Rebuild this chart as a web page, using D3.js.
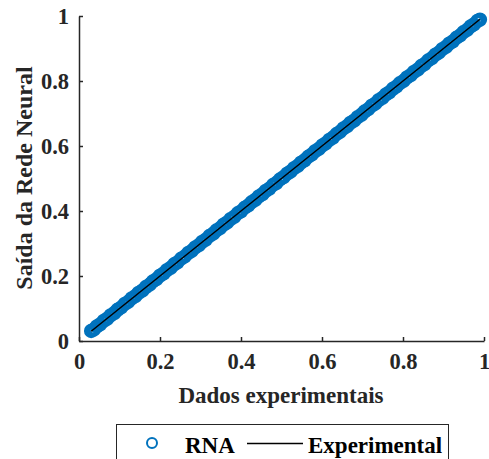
<!DOCTYPE html>
<html>
<head>
<meta charset="utf-8">
<script src="https://cdn.jsdelivr.net/npm/d3@7"></script>
<style>
  body { margin: 0; background: #fff; }
  svg { display: block; }
</style>
</head>
<body>
<div id="chart"></div>
<script>
// dados experimentais (x) e saida da rede (y)
const expData = [
  0.030, 0.036, 0.044, 0.052, 0.061, 0.069, 0.078, 0.087, 0.095, 0.104,
  0.113, 0.121, 0.130, 0.139, 0.147, 0.156, 0.165, 0.174, 0.182, 0.191,
  0.200, 0.209, 0.217, 0.226, 0.235, 0.243, 0.252, 0.261, 0.270, 0.278,
  0.287, 0.296, 0.304, 0.313, 0.322, 0.331, 0.339, 0.348, 0.357, 0.365,
  0.374, 0.383, 0.392, 0.400, 0.409, 0.418, 0.426, 0.435, 0.444, 0.453,
  0.461, 0.470, 0.479, 0.487, 0.496, 0.505, 0.514, 0.522, 0.531, 0.540,
  0.548, 0.557, 0.566, 0.575, 0.583, 0.592, 0.601, 0.609, 0.618, 0.627,
  0.636, 0.644, 0.653, 0.662, 0.670, 0.679, 0.688, 0.697, 0.705, 0.714,
  0.723, 0.731, 0.740, 0.749, 0.758, 0.766, 0.775, 0.784, 0.792, 0.801,
  0.810, 0.819, 0.827, 0.836, 0.845, 0.853, 0.862, 0.871, 0.880, 0.888,
  0.897, 0.906, 0.914, 0.923, 0.932, 0.941, 0.949, 0.958, 0.967, 0.975, 0.984, 0.990
];
const rnaOut = [
  0.031, 0.035, 0.045, 0.051, 0.062, 0.068, 0.079, 0.086, 0.096, 0.103,
  0.114, 0.120, 0.131, 0.138, 0.148, 0.155, 0.166, 0.173, 0.183, 0.190,
  0.201, 0.208, 0.218, 0.225, 0.236, 0.242, 0.253, 0.260, 0.271, 0.277,
  0.288, 0.295, 0.305, 0.312, 0.323, 0.330, 0.340, 0.347, 0.358, 0.364,
  0.375, 0.382, 0.393, 0.399, 0.410, 0.417, 0.427, 0.434, 0.445, 0.452,
  0.462, 0.469, 0.480, 0.486, 0.497, 0.504, 0.515, 0.521, 0.532, 0.539,
  0.549, 0.556, 0.567, 0.574, 0.584, 0.591, 0.602, 0.608, 0.619, 0.626,
  0.637, 0.643, 0.654, 0.661, 0.671, 0.678, 0.689, 0.696, 0.706, 0.713,
  0.724, 0.730, 0.741, 0.748, 0.759, 0.765, 0.776, 0.783, 0.793, 0.800,
  0.811, 0.818, 0.828, 0.835, 0.846, 0.852, 0.863, 0.870, 0.881, 0.887,
  0.898, 0.905, 0.915, 0.922, 0.933, 0.940, 0.950, 0.957, 0.968, 0.974, 0.985, 0.989
];
// linha experimental (y = x)
const lineX = [0.03, 0.99];
const ticks = [0, 0.2, 0.4, 0.6, 0.8, 1];
const tickLabels = ['0', '0.2', '0.4', '0.6', '0.8', '1'];

const W = 489, H = 459;
const margin = { top: 16, right: 5, bottom: 117, left: 79 };
const FONT = 'Liberation Serif';

const svg = d3.select('#chart').append('svg')
  .attr('width', W)
  .attr('height', H);

const x = d3.scaleLinear().domain([0, 1]).range([margin.left, W - margin.right]);
const y = d3.scaleLinear().domain([0, 1]).range([H - margin.bottom - 1, margin.top]);

const axisColor = '#262626';

// eixo x
const xAxis = svg.append('g')
  .attr('transform', `translate(0,${y(0)})`)
  .call(d3.axisBottom(x).tickValues(ticks).tickFormat((d, i) => tickLabels[i]).tickSizeInner(-4).tickSizeOuter(0).tickPadding(12));
// eixo y
const yAxis = svg.append('g')
  .attr('transform', `translate(${x(0)},0)`)
  .call(d3.axisLeft(y).tickValues(ticks).tickFormat((d, i) => tickLabels[i]).tickSizeInner(-4).tickSizeOuter(0).tickPadding(10));

[xAxis, yAxis].forEach(g => {
  g.attr('font-family', null).attr('font-size', null);
  g.select('.domain').attr('stroke', axisColor).attr('stroke-width', 1.5);
  g.selectAll('.tick line').attr('stroke', axisColor).attr('stroke-width', 1.5);
  g.selectAll('.tick text')
    .attr('fill', axisColor)
    .attr('font-family', FONT)
    .attr('font-weight', 'bold')
    .attr('font-size', 22.5);
});
xAxis.selectAll('.tick text').attr('dy', '0.71em');

// pontos RNA
svg.append('g')
  .selectAll('circle')
  .data(expData)
  .join('circle')
  .attr('cx', d => x(d))
  .attr('cy', (d, i) => y(rnaOut[i]))
  .attr('r', 5)
  .attr('fill', 'none')
  .attr('stroke', '#0072BD')
  .attr('stroke-width', 4.4);

// linha experimental
svg.append('line')
  .attr('x1', x(lineX[0])).attr('y1', y(lineX[0]))
  .attr('x2', x(lineX[1])).attr('y2', y(lineX[1]))
  .attr('stroke', '#000')
  .attr('stroke-width', 1.5);

function label(sel, size) {
  return sel.attr('font-family', FONT).attr('font-weight', 'bold').attr('font-size', size);
}

// rotulos
svg.append('text')
  .call(label, 23)
  .attr('x', 281).attr('y', 403)
  .attr('text-anchor', 'middle')
  .attr('fill', axisColor)
  .text('Dados experimentais');

svg.append('text')
  .call(label, 24)
  .attr('transform', `translate(32,178) rotate(-90)`)
  .attr('text-anchor', 'middle')
  .attr('fill', axisColor)
  .text('Saída da Rede Neural');

// legenda
const leg = svg.append('g');
leg.append('rect')
  .attr('x', 116.5).attr('y', 424.5)
  .attr('width', 332).attr('height', 50)
  .attr('fill', '#fff')
  .attr('stroke', axisColor)
  .attr('stroke-width', 1);
leg.append('circle')
  .attr('cx', 152).attr('cy', 443)
  .attr('r', 5)
  .attr('fill', 'none')
  .attr('stroke', '#0072BD')
  .attr('stroke-width', 2);
leg.append('text')
  .call(label, 23)
  .attr('x', 185).attr('y', 453)
  .attr('fill', '#000')
  .text('RNA');
leg.append('line')
  .attr('x1', 247).attr('x2', 303)
  .attr('y1', 443.5).attr('y2', 443.5)
  .attr('stroke', '#000')
  .attr('stroke-width', 1.5);
leg.append('text')
  .call(label, 23)
  .attr('x', 308).attr('y', 453)
  .attr('fill', '#000')
  .text('Experimental');
</script>
</body>
</html>
